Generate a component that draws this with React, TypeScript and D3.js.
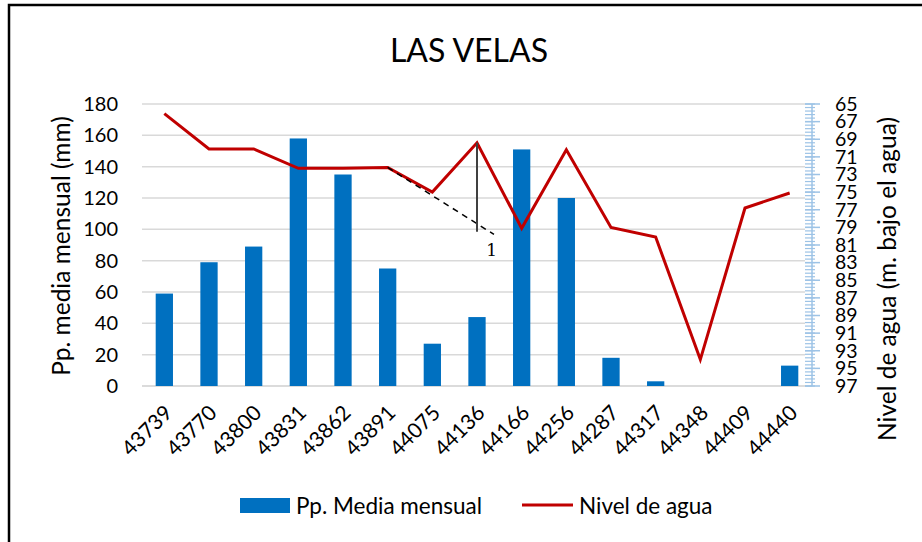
import React from "react";
import * as d3 from "d3";

const categories = ["43739","43770","43800","43831","43862","43891","44075","44136","44166","44256","44287","44317","44348","44409","44440"];
const precipitation = [59, 79, 89, 158, 135, 75, 27, 44, 151, 120, 18, 3, 0, 0, 13];
const waterLevel = [66.1, 70.1, 70.1, 72.3, 72.3, 72.2, 75.0, 69.4, 79.1, 70.2, 79.0, 80.1, 94.0, 76.8, 75.1];
const leftTicks = [0, 20, 40, 60, 80, 100, 120, 140, 160, 180];
const rightTicks = [65, 67, 69, 71, 73, 75, 77, 79, 81, 83, 85, 87, 89, 91, 93, 95, 97];
// slope annotation (category index, water level)
const slopeDashed = [[5, 72.2], [7.38, 79.8]];
const slopeVertical = [[7, 69.4], [7, 79.5]];
const slopeLabel = { idx: 7.33, val: 82.3, text: "1" };

const FONT = "Lato, 'Open Sans', sans-serif";

export default function App() {
  const W = 922, H = 542;
  const left = 142, right = 812, top = 104, bottom = 386;
  const x = d3.scaleBand<string>().domain(categories).range([left, right]).paddingInner(0.613).paddingOuter(0.3065);
  const step = x.step();
  const xAt = (i: number) => left + step * (i + 0.5);
  const yL = d3.scaleLinear().domain([0, 180]).range([bottom, top]);
  const yR = d3.scaleLinear().domain([65, 97]).range([top, bottom]);
  const line = d3.line<number>().x((_, i) => xAt(i)).y((d) => yR(d)).curve(d3.curveLinear);
  const minor = d3.range(65, 97.0001, 0.4);

  return (
    <div style={{ position: "fixed", left: 0, top: 0 }}>
      <svg width={W} height={H} style={{ display: "block", background: "#fff" }} fontFamily={FONT}>
        <rect x={9} y={5} width={1000} height={700} fill="#fff" stroke="#000" strokeWidth={2.5} />
        <text x={469} y={62} textAnchor="middle" fontSize={32} fill="#000">LAS VELAS</text>
        {/* gridlines */}
        {leftTicks.map((t) => (
          <line key={t} x1={left} x2={right - 7} y1={yL(t)} y2={yL(t)} stroke="#D9D9D9" strokeWidth={1.5} />
        ))}
        <line x1={left} x2={right} y1={bottom} y2={bottom} stroke="#D9D9D9" strokeWidth={1.5} />
        {/* bars */}
        {precipitation.map((v, i) => (
          <rect key={i} x={x(categories[i])} y={yL(v)} width={x.bandwidth()} height={bottom - yL(v)} fill="#0070C0" />
        ))}
        {/* line */}
        <path d={line(waterLevel) || ""} fill="none" stroke="#C00000" strokeWidth={3} strokeLinejoin="miter" />
        {/* slope annotation */}
        <line x1={xAt(slopeDashed[0][0])} y1={yR(slopeDashed[0][1])} x2={xAt(slopeDashed[1][0])} y2={yR(slopeDashed[1][1])} stroke="#000" strokeWidth={1.5} strokeDasharray="6,5" />
        <line x1={xAt(slopeVertical[0][0])} y1={yR(slopeVertical[0][1])} x2={xAt(slopeVertical[1][0])} y2={yR(slopeVertical[1][1])} stroke="#404040" strokeWidth={2} />
        <text x={xAt(slopeLabel.idx)} y={yR(slopeLabel.val)} textAnchor="middle" fontSize={17} fontFamily="'DejaVu Serif', serif" fill="#000">{slopeLabel.text}</text>
        {/* left axis labels */}
        {leftTicks.map((t) => (
          <text key={t} x={118} y={yL(t)} dy="0.35em" textAnchor="end" fontSize={20} fill="#000">{t}</text>
        ))}
        {/* right axis */}
        <line x1={right} x2={right} y1={top} y2={bottom} stroke="#9DC3E6" strokeWidth={1.5} />
        {minor.map((m, i) => (
          <line key={"m" + i} x1={right - 7} x2={right + 3} y1={yR(m)} y2={yR(m)} stroke="#9DC3E6" strokeWidth={1.2} />
        ))}
        {rightTicks.map((t) => (
          <line key={"M" + t} x1={right - 7} x2={right + 8} y1={yR(t)} y2={yR(t)} stroke="#9DC3E6" strokeWidth={1.5} />
        ))}
        {rightTicks.map((t) => (
          <text key={t} x={835} y={yR(t)} dy="0.35em" textAnchor="start" fontSize={19.5} fill="#000">{t}</text>
        ))}
        {/* x labels */}
        {categories.map((c, i) => (
          <text key={c} transform={`translate(${xAt(i) + 4},${409}) rotate(-45)`} dy="0.35em" textAnchor="end" fontSize={21} fill="#000">{c}</text>
        ))}
        {/* axis titles */}
        <text transform={`translate(61,246) rotate(-90)`} dy="0.35em" textAnchor="middle" fontSize={24.5} fill="#000">Pp. media mensual (mm)</text>
        <text transform={`translate(887,279) rotate(-90)`} dy="0.35em" textAnchor="middle" fontSize={24.5} fill="#000">Nivel de agua (m. bajo el agua)</text>
        {/* legend */}
        <rect x={240} y={498} width={50} height={15} fill="#0070C0" />
        <text x={296} y={506} dy="0.35em" fontSize={22.5} fill="#000">Pp. Media mensual</text>
        <line x1={522} x2={573} y1={505} y2={505} stroke="#C00000" strokeWidth={3} />
        <text x={579} y={506} dy="0.35em" fontSize={22.5} fill="#000">Nivel de agua</text>
      </svg>
    </div>
  );
}
